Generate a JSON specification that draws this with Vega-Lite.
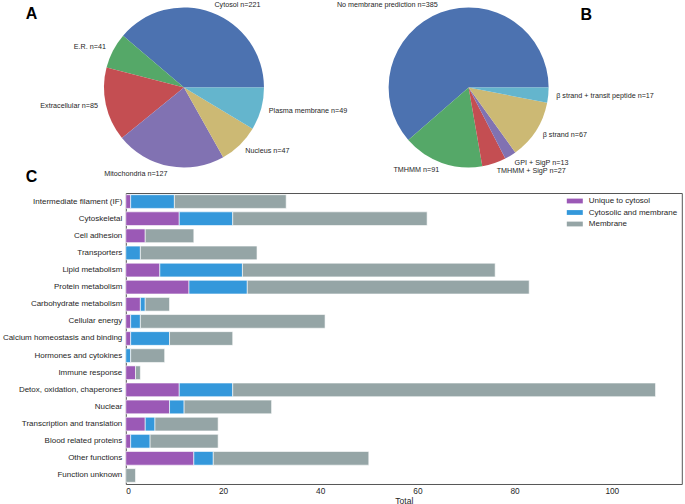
{
  "$schema": "https://vega.github.io/schema/vega-lite/v6.json",
  "padding": {"left": 0.8, "top": 0.5, "right": 0, "bottom": 0},
  "autosize": {"type": "pad"},
  "background": "white",
  "bounds": "flush",
  "spacing": 25.5,
  "resolve": {"scale": {"color": "independent"}, "legend": {"color": "independent"}},
  "config": {
    "font": "Liberation Sans",
    "view": {"stroke": null},
    "title": {"font": "Liberation Sans", "fontSize": 16, "fontWeight": "bold", "color": "#000000", "anchor": "start", "frame": "group", "offset": 0}
  },
  "vconcat": [
    {
      "width": 401,
      "height": 160,
      "title": {"text": "A", "dx": -100, "dy": 38.5, "baseline": "alphabetic"},
      "encoding": {
        "x": {"field": "p", "type": "nominal", "scale": {"type": "point", "domain": ["A", "B"], "padding": 0.2044}, "axis": null}
      },
      "layer": [
        {
          "data": {"values": [
            {"p": "A", "label": "Cytosol", "n": 221, "w": 221, "i": 1},
            {"p": "A", "label": "E.R.", "n": 41, "w": 41, "i": 2},
            {"p": "A", "label": "Extracellular", "n": 85, "w": 85, "i": 3},
            {"p": "A", "label": "Mitochondria", "n": 127, "w": 127, "i": 4},
            {"p": "A", "label": "Nucleus", "n": 47, "w": 47, "i": 5},
            {"p": "A", "label": "Plasma membrane", "n": 49, "w": 49, "i": 6}
          ]},
          "transform": [{"calculate": "datum.label + ' n=' + datum.n", "as": "lbl"}],
          "encoding": {
            "theta": {"field": "w", "type": "quantitative", "stack": true, "scale": {"range": [1.5708, -4.7124]}},
            "order": {"field": "i", "type": "quantitative"}
          },
          "layer": [
            {"mark": {"type": "arc", "outerRadius": 80},
             "encoding": {"color": {"field": "i", "type": "nominal", "legend": null,
               "scale": {"domain": [1, 2, 3, 4, 5, 6], "range": ["#4C72B0", "#55A868", "#C44E52", "#8172B2", "#CCB974", "#64B5CD"]}}}},
            {"mark": {"type": "text", "radius": 88, "align": "left", "baseline": "middle", "fontSize": 7.2, "fill": "#262626"},
             "encoding": {"text": {"condition": {"test": "datum.i == 1 || datum.i >= 5", "field": "lbl", "type": "nominal"}, "value": ""}}},
            {"mark": {"type": "text", "radius": 88, "align": "right", "baseline": "middle", "fontSize": 7.2, "fill": "#262626"},
             "encoding": {"text": {"condition": {"test": "datum.i >= 2 && datum.i <= 4", "field": "lbl", "type": "nominal"}, "value": ""}}}
          ]
        },
        {
          "data": {"values": [
            {"p": "B", "label": "No membrane prediction", "n": 385, "w": 342, "i": 1},
            {"p": "B", "label": "TMHMM", "n": 91, "w": 91, "i": 2},
            {"p": "B", "label": "TMHMM + SigP", "n": 27, "w": 27, "i": 3},
            {"p": "B", "label": "GPI + SigP", "n": 13, "w": 13, "i": 4},
            {"p": "B", "label": "β strand", "n": 67, "w": 67, "i": 5},
            {"p": "B", "label": "β strand + transit peptide", "n": 17, "w": 17, "i": 6}
          ]},
          "transform": [{"calculate": "datum.label + ' n=' + datum.n", "as": "lbl"}],
          "encoding": {
            "theta": {"field": "w", "type": "quantitative", "stack": true, "scale": {"range": [1.5708, -4.7124]}},
            "order": {"field": "i", "type": "quantitative"}
          },
          "layer": [
            {"mark": {"type": "arc", "outerRadius": 80},
             "encoding": {"color": {"field": "i", "type": "nominal", "legend": null,
               "scale": {"domain": [1, 2, 3, 4, 5, 6], "range": ["#4C72B0", "#55A868", "#C44E52", "#8172B2", "#CCB974", "#64B5CD"]}}}},
            {"mark": {"type": "text", "radius": 88, "align": "left", "baseline": "middle", "fontSize": 7.2, "fill": "#262626"},
             "encoding": {"text": {"condition": {"test": "datum.i >= 3", "field": "lbl", "type": "nominal"}, "value": ""}}},
            {"mark": {"type": "text", "radius": 88, "align": "right", "baseline": "middle", "fontSize": 7.2, "fill": "#262626"},
             "encoding": {"text": {"condition": {"test": "datum.i <= 2", "field": "lbl", "type": "nominal"}, "value": ""}}}
          ]
        },
        {
          "data": {"values": [{"p": "B", "t": "B"}]},
          "mark": {"type": "text", "font": "Liberation Sans", "fontSize": 16, "fontWeight": "bold", "fill": "#000000", "align": "left", "baseline": "alphabetic", "dx": 111.8, "dy": -67.5},
          "encoding": {"text": {"field": "t", "type": "nominal"}}
        }
      ],
      "resolve": {"scale": {"theta": "independent"}}
    },
    {
      "width": 556,
      "height": 291,
      "title": {"text": "C", "dx": -100, "dy": 9, "baseline": "alphabetic"},
      "view": {"stroke": "#555555", "strokeWidth": 1},
      "data": {"values": [
        {"c": "Intermediate filament (IF)", "t": "Unique to cytosol", "k": 0, "v": 1},
        {"c": "Intermediate filament (IF)", "t": "Cytosolic and membrane", "k": 1, "v": 9},
        {"c": "Intermediate filament (IF)", "t": "Membrane", "k": 2, "v": 23},
        {"c": "Cytoskeletal", "t": "Unique to cytosol", "k": 0, "v": 11},
        {"c": "Cytoskeletal", "t": "Cytosolic and membrane", "k": 1, "v": 11},
        {"c": "Cytoskeletal", "t": "Membrane", "k": 2, "v": 40},
        {"c": "Cell adhesion", "t": "Unique to cytosol", "k": 0, "v": 4},
        {"c": "Cell adhesion", "t": "Membrane", "k": 2, "v": 10},
        {"c": "Transporters", "t": "Cytosolic and membrane", "k": 1, "v": 3},
        {"c": "Transporters", "t": "Membrane", "k": 2, "v": 24},
        {"c": "Lipid metabolism", "t": "Unique to cytosol", "k": 0, "v": 7},
        {"c": "Lipid metabolism", "t": "Cytosolic and membrane", "k": 1, "v": 17},
        {"c": "Lipid metabolism", "t": "Membrane", "k": 2, "v": 52},
        {"c": "Protein metabolism", "t": "Unique to cytosol", "k": 0, "v": 13},
        {"c": "Protein metabolism", "t": "Cytosolic and membrane", "k": 1, "v": 12},
        {"c": "Protein metabolism", "t": "Membrane", "k": 2, "v": 58},
        {"c": "Carbohydrate metabolism", "t": "Unique to cytosol", "k": 0, "v": 3},
        {"c": "Carbohydrate metabolism", "t": "Cytosolic and membrane", "k": 1, "v": 1},
        {"c": "Carbohydrate metabolism", "t": "Membrane", "k": 2, "v": 5},
        {"c": "Cellular energy", "t": "Unique to cytosol", "k": 0, "v": 1},
        {"c": "Cellular energy", "t": "Cytosolic and membrane", "k": 1, "v": 2},
        {"c": "Cellular energy", "t": "Membrane", "k": 2, "v": 38},
        {"c": "Calcium homeostasis and binding", "t": "Unique to cytosol", "k": 0, "v": 1},
        {"c": "Calcium homeostasis and binding", "t": "Cytosolic and membrane", "k": 1, "v": 8},
        {"c": "Calcium homeostasis and binding", "t": "Membrane", "k": 2, "v": 13},
        {"c": "Hormones and cytokines", "t": "Cytosolic and membrane", "k": 1, "v": 1},
        {"c": "Hormones and cytokines", "t": "Membrane", "k": 2, "v": 7},
        {"c": "Immune response", "t": "Unique to cytosol", "k": 0, "v": 2},
        {"c": "Immune response", "t": "Membrane", "k": 2, "v": 1},
        {"c": "Detox, oxidation, chaperones", "t": "Unique to cytosol", "k": 0, "v": 11},
        {"c": "Detox, oxidation, chaperones", "t": "Cytosolic and membrane", "k": 1, "v": 11},
        {"c": "Detox, oxidation, chaperones", "t": "Membrane", "k": 2, "v": 87},
        {"c": "Nuclear", "t": "Unique to cytosol", "k": 0, "v": 9},
        {"c": "Nuclear", "t": "Cytosolic and membrane", "k": 1, "v": 3},
        {"c": "Nuclear", "t": "Membrane", "k": 2, "v": 18},
        {"c": "Transcription and translation", "t": "Unique to cytosol", "k": 0, "v": 4},
        {"c": "Transcription and translation", "t": "Cytosolic and membrane", "k": 1, "v": 2},
        {"c": "Transcription and translation", "t": "Membrane", "k": 2, "v": 13},
        {"c": "Blood related proteins", "t": "Unique to cytosol", "k": 0, "v": 1},
        {"c": "Blood related proteins", "t": "Cytosolic and membrane", "k": 1, "v": 4},
        {"c": "Blood related proteins", "t": "Membrane", "k": 2, "v": 14},
        {"c": "Other functions", "t": "Unique to cytosol", "k": 0, "v": 14},
        {"c": "Other functions", "t": "Cytosolic and membrane", "k": 1, "v": 4},
        {"c": "Other functions", "t": "Membrane", "k": 2, "v": 32},
        {"c": "Function unknown", "t": "Membrane", "k": 2, "v": 2}
      ]},
      "mark": {"type": "bar", "stroke": "white", "strokeWidth": 0.6},
      "encoding": {
        "y": {"field": "c", "type": "nominal",
          "sort": ["Intermediate filament (IF)", "Cytoskeletal", "Cell adhesion", "Transporters", "Lipid metabolism", "Protein metabolism", "Carbohydrate metabolism", "Cellular energy", "Calcium homeostasis and binding", "Hormones and cytokines", "Immune response", "Detox, oxidation, chaperones", "Nuclear", "Transcription and translation", "Blood related proteins", "Other functions", "Function unknown"],
          "scale": {"paddingInner": 0.2, "paddingOuter": 0.1},
          "axis": {"title": null, "ticks": false, "domain": false, "labelPadding": 4, "labelFontSize": 8, "labelColor": "#262626", "labelLimit": 0}},
        "x": {"field": "v", "type": "quantitative", "stack": "zero",
          "scale": {"domain": [0, 114.4], "nice": false, "zero": true},
          "axis": {"title": "Total", "values": [0, 20, 40, 60, 80, 100], "ticks": false, "domain": false, "grid": false,
                   "labelFontSize": 8.3, "labelPadding": 3, "labelColor": "#262626",
                   "titleFontSize": 8.5, "titleFontWeight": "normal", "titlePadding": 1, "titleColor": "#262626"}},
        "color": {"field": "t", "type": "nominal",
          "scale": {"domain": ["Unique to cytosol", "Cytosolic and membrane", "Membrane"], "range": ["#9b59b6", "#3498db", "#95a5a6"]},
          "legend": {"title": null, "orient": "top-right", "offset": 4, "padding": 0,
                     "symbolType": "M-2,-0.6H2V0.6H-2Z", "symbolSize": 64, "symbolStrokeWidth": 0,
                     "labelOffset": 10, "labelFontSize": 8, "labelColor": "#262626", "rowPadding": 3.5}},
        "order": {"field": "k", "type": "quantitative"}
      }
    }
  ]
}
